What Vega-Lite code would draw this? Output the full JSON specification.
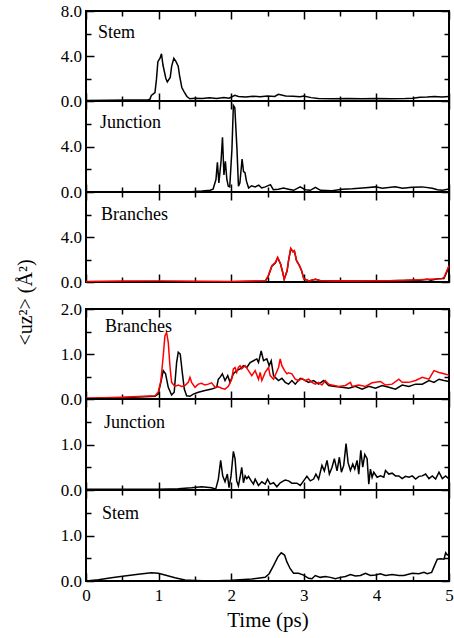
{
  "$schema": "https://vega.github.io/schema/vega-lite/v6.json",
  "padding": {"left": 14, "top": 1, "right": 2, "bottom": 2},
  "config": {
    "font": "Liberation Serif",
    "view": {"stroke": "#000000", "strokeWidth": 2},
    "axis": {"domain": false, "grid": false, "tickColor": "#000000", "tickWidth": 1.5, "labelFont": "Liberation Serif", "labelFontSize": 17, "labelColor": "#000000", "labelOverlap": false, "labelFlush": false, "titleFont": "Liberation Serif", "titleFontWeight": "normal", "titleColor": "#000000"},
    "title": {"font": "Liberation Serif", "fontSize": 18, "fontWeight": "normal", "color": "#000000", "anchor": "start", "frame": "group", "baseline": "alphabetic"},
    "line": {"strokeWidth": 1.5}
  },
  "datasets": {
    "p1": [
      {"t":0,"v":0.05,"s":"b"},{"t":0.3,"v":0.06,"s":"b"},{"t":0.6,"v":0.08,"s":"b"},{"t":0.85,"v":0.1,"s":"b"},{"t":0.88,"v":0.15,"s":"b"},{"t":0.9,"v":0.5,"s":"b"},{"t":0.95,"v":0.75,"s":"b"},{"t":0.97,"v":1.9,"s":"b"},{"t":0.99,"v":3.5,"s":"b"},{"t":1.02,"v":3.8,"s":"b"},{"t":1.04,"v":4.2,"s":"b"},{"t":1.06,"v":3.2,"s":"b"},{"t":1.1,"v":2.0,"s":"b"},{"t":1.12,"v":1.7,"s":"b"},{"t":1.16,"v":2.1,"s":"b"},{"t":1.18,"v":3.1,"s":"b"},{"t":1.21,"v":3.8,"s":"b"},{"t":1.24,"v":3.5,"s":"b"},{"t":1.27,"v":3.1,"s":"b"},{"t":1.29,"v":2.2,"s":"b"},{"t":1.32,"v":1.2,"s":"b"},{"t":1.35,"v":0.84,"s":"b"},{"t":1.39,"v":0.4,"s":"b"},{"t":1.43,"v":0.2,"s":"b"},{"t":1.5,"v":0.25,"s":"b"},{"t":1.6,"v":0.22,"s":"b"},{"t":1.7,"v":0.28,"s":"b"},{"t":1.8,"v":0.22,"s":"b"},{"t":1.9,"v":0.3,"s":"b"},{"t":1.97,"v":0.25,"s":"b"},{"t":2.05,"v":0.5,"s":"b"},{"t":2.1,"v":0.4,"s":"b"},{"t":2.2,"v":0.35,"s":"b"},{"t":2.3,"v":0.42,"s":"b"},{"t":2.4,"v":0.38,"s":"b"},{"t":2.5,"v":0.45,"s":"b"},{"t":2.6,"v":0.4,"s":"b"},{"t":2.65,"v":0.6,"s":"b"},{"t":2.75,"v":0.45,"s":"b"},{"t":2.85,"v":0.42,"s":"b"},{"t":2.95,"v":0.38,"s":"b"},{"t":3.0,"v":0.45,"s":"b"},{"t":3.1,"v":0.3,"s":"b"},{"t":3.2,"v":0.22,"s":"b"},{"t":3.4,"v":0.2,"s":"b"},{"t":3.6,"v":0.22,"s":"b"},{"t":3.8,"v":0.2,"s":"b"},{"t":4.0,"v":0.22,"s":"b"},{"t":4.2,"v":0.2,"s":"b"},{"t":4.4,"v":0.22,"s":"b"},{"t":4.5,"v":0.25,"s":"b"},{"t":4.6,"v":0.33,"s":"b"},{"t":4.7,"v":0.35,"s":"b"},{"t":4.8,"v":0.4,"s":"b"},{"t":4.9,"v":0.35,"s":"b"},{"t":5.0,"v":0.4,"s":"b"}
    ],
    "p2": [
      {"t":0,"v":0.02,"s":"b"},{"t":1.0,"v":0.02,"s":"b"},{"t":1.45,"v":0.03,"s":"b"},{"t":1.6,"v":0.08,"s":"b"},{"t":1.71,"v":0.15,"s":"b"},{"t":1.75,"v":0.25,"s":"b"},{"t":1.79,"v":1.1,"s":"b"},{"t":1.81,"v":2.6,"s":"b"},{"t":1.83,"v":0.8,"s":"b"},{"t":1.86,"v":2.7,"s":"b"},{"t":1.88,"v":4.8,"s":"b"},{"t":1.9,"v":1.5,"s":"b"},{"t":1.92,"v":2.7,"s":"b"},{"t":1.94,"v":1.1,"s":"b"},{"t":1.96,"v":0.5,"s":"b"},{"t":1.98,"v":0.45,"s":"b"},{"t":2.01,"v":3.75,"s":"b"},{"t":2.03,"v":7.6,"s":"b"},{"t":2.05,"v":7.4,"s":"b"},{"t":2.08,"v":3.7,"s":"b"},{"t":2.1,"v":0.5,"s":"b"},{"t":2.12,"v":0.8,"s":"b"},{"t":2.15,"v":2.9,"s":"b"},{"t":2.17,"v":1.8,"s":"b"},{"t":2.19,"v":1.7,"s":"b"},{"t":2.21,"v":0.95,"s":"b"},{"t":2.24,"v":0.35,"s":"b"},{"t":2.28,"v":0.55,"s":"b"},{"t":2.33,"v":0.45,"s":"b"},{"t":2.38,"v":0.6,"s":"b"},{"t":2.42,"v":0.35,"s":"b"},{"t":2.47,"v":0.45,"s":"b"},{"t":2.54,"v":0.65,"s":"b"},{"t":2.58,"v":0.2,"s":"b"},{"t":2.65,"v":0.25,"s":"b"},{"t":2.72,"v":0.35,"s":"b"},{"t":2.79,"v":0.25,"s":"b"},{"t":2.86,"v":0.15,"s":"b"},{"t":2.95,"v":0.45,"s":"b"},{"t":3.02,"v":0.2,"s":"b"},{"t":3.09,"v":0.15,"s":"b"},{"t":3.16,"v":0.4,"s":"b"},{"t":3.23,"v":0.15,"s":"b"},{"t":3.39,"v":0.12,"s":"b"},{"t":3.53,"v":0.25,"s":"b"},{"t":3.67,"v":0.28,"s":"b"},{"t":3.85,"v":0.38,"s":"b"},{"t":3.99,"v":0.45,"s":"b"},{"t":4.08,"v":0.33,"s":"b"},{"t":4.26,"v":0.47,"s":"b"},{"t":4.36,"v":0.33,"s":"b"},{"t":4.49,"v":0.42,"s":"b"},{"t":4.63,"v":0.45,"s":"b"},{"t":4.77,"v":0.33,"s":"b"},{"t":4.84,"v":0.2,"s":"b"},{"t":4.91,"v":0.15,"s":"b"},{"t":5.0,"v":0.27,"s":"b"}
    ],
    "p3": [
      {"t":0,"v":0.02,"s":"b"},{"t":1.0,"v":0.05,"s":"b"},{"t":2.0,"v":0.03,"s":"b"},{"t":2.47,"v":0.08,"s":"b"},{"t":2.51,"v":0.5,"s":"b"},{"t":2.56,"v":1.4,"s":"b"},{"t":2.61,"v":1.7,"s":"b"},{"t":2.64,"v":2.15,"s":"b"},{"t":2.68,"v":1.6,"s":"b"},{"t":2.71,"v":0.85,"s":"b"},{"t":2.73,"v":0.25,"s":"b"},{"t":2.77,"v":1.0,"s":"b"},{"t":2.79,"v":1.9,"s":"b"},{"t":2.82,"v":2.95,"s":"b"},{"t":2.85,"v":2.7,"s":"b"},{"t":2.87,"v":2.75,"s":"b"},{"t":2.9,"v":1.9,"s":"b"},{"t":2.94,"v":1.45,"s":"b"},{"t":2.97,"v":1.0,"s":"b"},{"t":3.0,"v":0.3,"s":"b"},{"t":3.07,"v":0.1,"s":"b"},{"t":3.16,"v":0.25,"s":"b"},{"t":3.23,"v":0.12,"s":"b"},{"t":3.5,"v":0.1,"s":"b"},{"t":4.0,"v":0.1,"s":"b"},{"t":4.5,"v":0.15,"s":"b"},{"t":4.6,"v":0.15,"s":"b"},{"t":4.7,"v":0.25,"s":"b"},{"t":4.75,"v":0.15,"s":"b"},{"t":4.85,"v":0.28,"s":"b"},{"t":4.93,"v":0.3,"s":"b"},{"t":4.97,"v":0.9,"s":"b"},{"t":5.0,"v":1.4,"s":"b"},
      {"t":0,"v":0.05,"s":"r"},{"t":0.5,"v":0.08,"s":"r"},{"t":1.0,"v":0.1,"s":"r"},{"t":1.5,"v":0.06,"s":"r"},{"t":2.0,"v":0.05,"s":"r"},{"t":2.3,"v":0.08,"s":"r"},{"t":2.47,"v":0.1,"s":"r"},{"t":2.51,"v":0.55,"s":"r"},{"t":2.56,"v":1.45,"s":"r"},{"t":2.61,"v":1.75,"s":"r"},{"t":2.64,"v":2.2,"s":"r"},{"t":2.68,"v":1.6,"s":"r"},{"t":2.71,"v":0.85,"s":"r"},{"t":2.73,"v":0.25,"s":"r"},{"t":2.77,"v":1.0,"s":"r"},{"t":2.79,"v":1.9,"s":"r"},{"t":2.82,"v":3.0,"s":"r"},{"t":2.85,"v":2.7,"s":"r"},{"t":2.87,"v":2.8,"s":"r"},{"t":2.9,"v":1.9,"s":"r"},{"t":2.94,"v":1.45,"s":"r"},{"t":2.97,"v":1.0,"s":"r"},{"t":3.0,"v":0.3,"s":"r"},{"t":3.07,"v":0.1,"s":"r"},{"t":3.16,"v":0.25,"s":"r"},{"t":3.23,"v":0.12,"s":"r"},{"t":3.4,"v":0.1,"s":"r"},{"t":3.6,"v":0.12,"s":"r"},{"t":3.8,"v":0.1,"s":"r"},{"t":4.0,"v":0.12,"s":"r"},{"t":4.2,"v":0.12,"s":"r"},{"t":4.4,"v":0.15,"s":"r"},{"t":4.5,"v":0.18,"s":"r"},{"t":4.6,"v":0.2,"s":"r"},{"t":4.72,"v":0.25,"s":"r"},{"t":4.8,"v":0.27,"s":"r"},{"t":4.9,"v":0.3,"s":"r"},{"t":4.93,"v":0.4,"s":"r"},{"t":4.97,"v":1.0,"s":"r"},{"t":5.0,"v":1.45,"s":"r"}
    ],
    "p4": [
      {"t":0,"v":0.01,"s":"b"},{"t":0.49,"v":0.03,"s":"b"},{"t":0.95,"v":0.06,"s":"b"},{"t":0.994,"v":0.11,"s":"b"},{"t":1.031,"v":0.37,"s":"b"},{"t":1.064,"v":0.63,"s":"b"},{"t":1.096,"v":0.56,"s":"b"},{"t":1.133,"v":0.26,"s":"b"},{"t":1.179,"v":0.09,"s":"b"},{"t":1.215,"v":0.15,"s":"b"},{"t":1.248,"v":0.81,"s":"b"},{"t":1.271,"v":1.04,"s":"b"},{"t":1.298,"v":1.0,"s":"b"},{"t":1.326,"v":0.59,"s":"b"},{"t":1.354,"v":0.22,"s":"b"},{"t":1.386,"v":0.07,"s":"b"},{"t":1.432,"v":0.06,"s":"b"},{"t":1.478,"v":0.11,"s":"b"},{"t":1.547,"v":0.15,"s":"b"},{"t":1.639,"v":0.19,"s":"b"},{"t":1.731,"v":0.22,"s":"b"},{"t":1.8,"v":0.26,"s":"b"},{"t":1.823,"v":0.44,"s":"b"},{"t":1.846,"v":0.48,"s":"b"},{"t":1.878,"v":0.56,"s":"b"},{"t":1.915,"v":0.41,"s":"b"},{"t":1.952,"v":0.52,"s":"b"},{"t":1.984,"v":0.37,"s":"b"},{"t":2.03,"v":0.56,"s":"b"},{"t":2.076,"v":0.63,"s":"b"},{"t":2.122,"v":0.67,"s":"b"},{"t":2.169,"v":0.74,"s":"b"},{"t":2.215,"v":0.7,"s":"b"},{"t":2.261,"v":0.81,"s":"b"},{"t":2.307,"v":0.85,"s":"b"},{"t":2.353,"v":0.89,"s":"b"},{"t":2.376,"v":0.81,"s":"b"},{"t":2.413,"v":1.07,"s":"b"},{"t":2.445,"v":0.85,"s":"b"},{"t":2.491,"v":0.89,"s":"b"},{"t":2.523,"v":0.74,"s":"b"},{"t":2.551,"v":0.85,"s":"b"},{"t":2.583,"v":0.52,"s":"b"},{"t":2.606,"v":0.48,"s":"b"},{"t":2.652,"v":0.41,"s":"b"},{"t":2.698,"v":0.46,"s":"b"},{"t":2.744,"v":0.37,"s":"b"},{"t":2.79,"v":0.33,"s":"b"},{"t":2.836,"v":0.41,"s":"b"},{"t":2.882,"v":0.33,"s":"b"},{"t":2.951,"v":0.46,"s":"b"},{"t":2.997,"v":0.43,"s":"b"},{"t":3.066,"v":0.37,"s":"b"},{"t":3.135,"v":0.41,"s":"b"},{"t":3.204,"v":0.33,"s":"b"},{"t":3.274,"v":0.41,"s":"b"},{"t":3.343,"v":0.3,"s":"b"},{"t":3.435,"v":0.28,"s":"b"},{"t":3.527,"v":0.26,"s":"b"},{"t":3.619,"v":0.24,"s":"b"},{"t":3.711,"v":0.28,"s":"b"},{"t":3.803,"v":0.22,"s":"b"},{"t":3.895,"v":0.28,"s":"b"},{"t":3.987,"v":0.24,"s":"b"},{"t":4.079,"v":0.3,"s":"b"},{"t":4.171,"v":0.26,"s":"b"},{"t":4.263,"v":0.22,"s":"b"},{"t":4.355,"v":0.31,"s":"b"},{"t":4.448,"v":0.28,"s":"b"},{"t":4.54,"v":0.33,"s":"b"},{"t":4.632,"v":0.33,"s":"b"},{"t":4.724,"v":0.41,"s":"b"},{"t":4.793,"v":0.37,"s":"b"},{"t":4.862,"v":0.44,"s":"b"},{"t":4.931,"v":0.41,"s":"b"},{"t":5.0,"v":0.39,"s":"b"},
      {"t":0,"v":0.015,"s":"r"},{"t":0.49,"v":0.04,"s":"r"},{"t":0.95,"v":0.07,"s":"r"},{"t":0.994,"v":0.15,"s":"r"},{"t":1.031,"v":0.4,"s":"r"},{"t":1.064,"v":0.96,"s":"r"},{"t":1.087,"v":1.4,"s":"r"},{"t":1.11,"v":1.48,"s":"r"},{"t":1.133,"v":1.26,"s":"r"},{"t":1.156,"v":0.74,"s":"r"},{"t":1.179,"v":0.37,"s":"r"},{"t":1.225,"v":0.28,"s":"r"},{"t":1.271,"v":0.31,"s":"r"},{"t":1.317,"v":0.28,"s":"r"},{"t":1.363,"v":0.3,"s":"r"},{"t":1.409,"v":0.37,"s":"r"},{"t":1.432,"v":0.48,"s":"r"},{"t":1.455,"v":0.37,"s":"r"},{"t":1.501,"v":0.26,"s":"r"},{"t":1.547,"v":0.33,"s":"r"},{"t":1.593,"v":0.35,"s":"r"},{"t":1.639,"v":0.31,"s":"r"},{"t":1.685,"v":0.33,"s":"r"},{"t":1.731,"v":0.36,"s":"r"},{"t":1.777,"v":0.26,"s":"r"},{"t":1.823,"v":0.27,"s":"r"},{"t":1.869,"v":0.24,"s":"r"},{"t":1.915,"v":0.22,"s":"r"},{"t":1.961,"v":0.28,"s":"r"},{"t":2.007,"v":0.44,"s":"r"},{"t":2.03,"v":0.67,"s":"r"},{"t":2.053,"v":0.7,"s":"r"},{"t":2.076,"v":0.59,"s":"r"},{"t":2.099,"v":0.7,"s":"r"},{"t":2.122,"v":0.74,"s":"r"},{"t":2.145,"v":0.67,"s":"r"},{"t":2.192,"v":0.74,"s":"r"},{"t":2.238,"v":0.63,"s":"r"},{"t":2.284,"v":0.52,"s":"r"},{"t":2.33,"v":0.63,"s":"r"},{"t":2.376,"v":0.44,"s":"r"},{"t":2.399,"v":0.59,"s":"r"},{"t":2.422,"v":0.41,"s":"r"},{"t":2.468,"v":0.59,"s":"r"},{"t":2.514,"v":0.7,"s":"r"},{"t":2.537,"v":0.52,"s":"r"},{"t":2.583,"v":0.44,"s":"r"},{"t":2.615,"v":0.56,"s":"r"},{"t":2.652,"v":0.7,"s":"r"},{"t":2.675,"v":0.89,"s":"r"},{"t":2.698,"v":0.74,"s":"r"},{"t":2.735,"v":0.63,"s":"r"},{"t":2.767,"v":0.56,"s":"r"},{"t":2.79,"v":0.58,"s":"r"},{"t":2.836,"v":0.56,"s":"r"},{"t":2.882,"v":0.44,"s":"r"},{"t":2.928,"v":0.41,"s":"r"},{"t":2.974,"v":0.46,"s":"r"},{"t":3.02,"v":0.41,"s":"r"},{"t":3.066,"v":0.44,"s":"r"},{"t":3.112,"v":0.37,"s":"r"},{"t":3.158,"v":0.33,"s":"r"},{"t":3.204,"v":0.37,"s":"r"},{"t":3.25,"v":0.31,"s":"r"},{"t":3.297,"v":0.41,"s":"r"},{"t":3.343,"v":0.33,"s":"r"},{"t":3.389,"v":0.31,"s":"r"},{"t":3.481,"v":0.28,"s":"r"},{"t":3.573,"v":0.3,"s":"r"},{"t":3.642,"v":0.37,"s":"r"},{"t":3.665,"v":0.28,"s":"r"},{"t":3.757,"v":0.31,"s":"r"},{"t":3.849,"v":0.28,"s":"r"},{"t":3.941,"v":0.36,"s":"r"},{"t":4.056,"v":0.39,"s":"r"},{"t":4.125,"v":0.31,"s":"r"},{"t":4.217,"v":0.33,"s":"r"},{"t":4.309,"v":0.44,"s":"r"},{"t":4.355,"v":0.37,"s":"r"},{"t":4.448,"v":0.37,"s":"r"},{"t":4.54,"v":0.41,"s":"r"},{"t":4.632,"v":0.48,"s":"r"},{"t":4.724,"v":0.44,"s":"r"},{"t":4.793,"v":0.63,"s":"r"},{"t":4.862,"v":0.59,"s":"r"},{"t":4.931,"v":0.56,"s":"r"},{"t":5.0,"v":0.53,"s":"r"}
    ],
    "p5": [
      {"t":0,"v":0.015,"s":"b"},{"t":0.5,"v":0.015,"s":"b"},{"t":0.994,"v":0.015,"s":"b"},{"t":1.271,"v":0.03,"s":"b"},{"t":1.455,"v":0.05,"s":"b"},{"t":1.593,"v":0.07,"s":"b"},{"t":1.731,"v":0.05,"s":"b"},{"t":1.786,"v":0.015,"s":"b"},{"t":1.823,"v":0.24,"s":"b"},{"t":1.855,"v":0.65,"s":"b"},{"t":1.883,"v":0.31,"s":"b"},{"t":1.915,"v":0.18,"s":"b"},{"t":1.947,"v":0.35,"s":"b"},{"t":1.97,"v":0.05,"s":"b"},{"t":1.998,"v":0.31,"s":"b"},{"t":2.03,"v":0.85,"s":"b"},{"t":2.053,"v":0.69,"s":"b"},{"t":2.076,"v":0.2,"s":"b"},{"t":2.099,"v":0.09,"s":"b"},{"t":2.122,"v":0.28,"s":"b"},{"t":2.145,"v":0.5,"s":"b"},{"t":2.169,"v":0.16,"s":"b"},{"t":2.192,"v":0.31,"s":"b"},{"t":2.215,"v":0.25,"s":"b"},{"t":2.238,"v":0.3,"s":"b"},{"t":2.275,"v":0.2,"s":"b"},{"t":2.307,"v":0.13,"s":"b"},{"t":2.33,"v":0.24,"s":"b"},{"t":2.376,"v":0.1,"s":"b"},{"t":2.422,"v":0.18,"s":"b"},{"t":2.468,"v":0.13,"s":"b"},{"t":2.5,"v":0.24,"s":"b"},{"t":2.537,"v":0.13,"s":"b"},{"t":2.583,"v":0.16,"s":"b"},{"t":2.629,"v":0.07,"s":"b"},{"t":2.675,"v":0.16,"s":"b"},{"t":2.721,"v":0.2,"s":"b"},{"t":2.744,"v":0.22,"s":"b"},{"t":2.79,"v":0.2,"s":"b"},{"t":2.836,"v":0.15,"s":"b"},{"t":2.905,"v":0.15,"s":"b"},{"t":2.951,"v":0.1,"s":"b"},{"t":2.997,"v":0.2,"s":"b"},{"t":3.043,"v":0.3,"s":"b"},{"t":3.089,"v":0.2,"s":"b"},{"t":3.135,"v":0.24,"s":"b"},{"t":3.167,"v":0.35,"s":"b"},{"t":3.204,"v":0.24,"s":"b"},{"t":3.25,"v":0.54,"s":"b"},{"t":3.283,"v":0.42,"s":"b"},{"t":3.32,"v":0.65,"s":"b"},{"t":3.352,"v":0.35,"s":"b"},{"t":3.389,"v":0.5,"s":"b"},{"t":3.421,"v":0.69,"s":"b"},{"t":3.458,"v":0.42,"s":"b"},{"t":3.49,"v":0.72,"s":"b"},{"t":3.518,"v":0.39,"s":"b"},{"t":3.55,"v":0.54,"s":"b"},{"t":3.582,"v":1.02,"s":"b"},{"t":3.61,"v":0.6,"s":"b"},{"t":3.642,"v":0.43,"s":"b"},{"t":3.674,"v":0.57,"s":"b"},{"t":3.702,"v":0.46,"s":"b"},{"t":3.734,"v":0.65,"s":"b"},{"t":3.757,"v":0.35,"s":"b"},{"t":3.785,"v":0.87,"s":"b"},{"t":3.812,"v":0.5,"s":"b"},{"t":3.84,"v":0.78,"s":"b"},{"t":3.872,"v":0.69,"s":"b"},{"t":3.895,"v":0.13,"s":"b"},{"t":3.918,"v":0.46,"s":"b"},{"t":3.941,"v":0.28,"s":"b"},{"t":3.964,"v":0.39,"s":"b"},{"t":4.01,"v":0.28,"s":"b"},{"t":4.056,"v":0.31,"s":"b"},{"t":4.102,"v":0.28,"s":"b"},{"t":4.125,"v":0.43,"s":"b"},{"t":4.171,"v":0.35,"s":"b"},{"t":4.217,"v":0.37,"s":"b"},{"t":4.263,"v":0.31,"s":"b"},{"t":4.309,"v":0.31,"s":"b"},{"t":4.355,"v":0.25,"s":"b"},{"t":4.401,"v":0.3,"s":"b"},{"t":4.448,"v":0.28,"s":"b"},{"t":4.494,"v":0.31,"s":"b"},{"t":4.54,"v":0.24,"s":"b"},{"t":4.586,"v":0.3,"s":"b"},{"t":4.632,"v":0.31,"s":"b"},{"t":4.678,"v":0.35,"s":"b"},{"t":4.724,"v":0.25,"s":"b"},{"t":4.77,"v":0.31,"s":"b"},{"t":4.816,"v":0.24,"s":"b"},{"t":4.862,"v":0.39,"s":"b"},{"t":4.908,"v":0.25,"s":"b"},{"t":4.954,"v":0.31,"s":"b"},{"t":5.0,"v":0.24,"s":"b"}
    ],
    "p6": [
      {"t":0,"v":0.0,"s":"b"},{"t":0.17,"v":0.03,"s":"b"},{"t":0.35,"v":0.07,"s":"b"},{"t":0.53,"v":0.11,"s":"b"},{"t":0.72,"v":0.15,"s":"b"},{"t":0.9,"v":0.18,"s":"b"},{"t":0.994,"v":0.17,"s":"b"},{"t":1.087,"v":0.13,"s":"b"},{"t":1.225,"v":0.07,"s":"b"},{"t":1.363,"v":0.02,"s":"b"},{"t":1.501,"v":0.01,"s":"b"},{"t":1.731,"v":0.0,"s":"b"},{"t":2.007,"v":0.015,"s":"b"},{"t":2.284,"v":0.045,"s":"b"},{"t":2.468,"v":0.08,"s":"b"},{"t":2.523,"v":0.16,"s":"b"},{"t":2.583,"v":0.34,"s":"b"},{"t":2.643,"v":0.53,"s":"b"},{"t":2.689,"v":0.62,"s":"b"},{"t":2.735,"v":0.57,"s":"b"},{"t":2.767,"v":0.42,"s":"b"},{"t":2.813,"v":0.27,"s":"b"},{"t":2.859,"v":0.17,"s":"b"},{"t":2.928,"v":0.17,"s":"b"},{"t":2.997,"v":0.13,"s":"b"},{"t":3.066,"v":0.06,"s":"b"},{"t":3.112,"v":0.05,"s":"b"},{"t":3.158,"v":0.12,"s":"b"},{"t":3.227,"v":0.08,"s":"b"},{"t":3.297,"v":0.1,"s":"b"},{"t":3.366,"v":0.08,"s":"b"},{"t":3.435,"v":0.05,"s":"b"},{"t":3.504,"v":0.08,"s":"b"},{"t":3.573,"v":0.1,"s":"b"},{"t":3.642,"v":0.14,"s":"b"},{"t":3.711,"v":0.11,"s":"b"},{"t":3.78,"v":0.12,"s":"b"},{"t":3.849,"v":0.17,"s":"b"},{"t":3.918,"v":0.12,"s":"b"},{"t":3.987,"v":0.13,"s":"b"},{"t":4.056,"v":0.16,"s":"b"},{"t":4.125,"v":0.12,"s":"b"},{"t":4.217,"v":0.14,"s":"b"},{"t":4.309,"v":0.12,"s":"b"},{"t":4.378,"v":0.12,"s":"b"},{"t":4.494,"v":0.17,"s":"b"},{"t":4.586,"v":0.16,"s":"b"},{"t":4.655,"v":0.19,"s":"b"},{"t":4.701,"v":0.16,"s":"b"},{"t":4.761,"v":0.19,"s":"b"},{"t":4.793,"v":0.31,"s":"b"},{"t":4.839,"v":0.48,"s":"b"},{"t":4.885,"v":0.49,"s":"b"},{"t":4.931,"v":0.48,"s":"b"},{"t":4.954,"v":0.62,"s":"b"},{"t":4.977,"v":0.57,"s":"b"},{"t":5.0,"v":0.57,"s":"b"}
    ],
    "gap": [{"t": 0, "v": 0}]
  },
  "spacing": 0,
  "bounds": "flush",
  "vconcat": [
    {
      "width": 363, "height": 90,
      "data": {"name": "p1"},
      "title": {"text": "Stem", "offset": -40, "dx": 12},
      "layer": [
        {"mark": {"type": "line"},
         "encoding": {
           "x": {"field": "t", "type": "quantitative", "scale": {"domain": [0, 5], "nice": false, "zero": false}, "axis": {"orient": "bottom", "values": [0,0.5,1,1.5,2,2.5,3,3.5,4,4.5,5], "labels": false, "title": null, "tickSize": {"condition": {"test": "datum.value % 1 === 0", "value": -8}, "value": -5}}},
           "y": {"field": "v", "type": "quantitative", "scale": {"domain": [0, 8], "nice": false}, "axis": {"orient": "left", "values": [0,2,4,6,8], "labelExpr": "datum.value % 4 === 0 ? format(datum.value, '.1f') : ''", "labelPadding": 12.5, "title": null, "tickSize": {"condition": {"test": "datum.value % 4 === 0", "value": -8}, "value": -5}}},
           "color": {"field": "s", "type": "nominal", "scale": {"domain": ["b", "r"], "range": ["#000000", "#ff0000"]}, "legend": null}
         }},
        {"mark": {"type": "line", "opacity": 0},
         "encoding": {
           "x": {"field": "t", "type": "quantitative", "axis": {"orient": "top", "values": [0,0.5,1,1.5,2,2.5,3,3.5,4,4.5,5], "labels": false, "title": null, "tickSize": {"condition": {"test": "datum.value % 1 === 0", "value": -8}, "value": -5}}},
           "y": {"field": "v", "type": "quantitative", "axis": {"orient": "right", "values": [0,2,4,6,8], "labels": false, "title": null, "tickSize": {"condition": {"test": "datum.value % 4 === 0", "value": -8}, "value": -5}}}
         }}
      ],
      "resolve": {"axis": {"x": "independent", "y": "independent"}}
    },
    {
      "width": 363, "height": 91,
      "data": {"name": "p2"},
      "title": {"text": "Junction", "offset": -32, "dx": 14},
      "layer": [
        {"mark": {"type": "line"},
         "encoding": {
           "x": {"field": "t", "type": "quantitative", "scale": {"domain": [0, 5], "nice": false, "zero": false}, "axis": {"orient": "bottom", "values": [0,0.5,1,1.5,2,2.5,3,3.5,4,4.5,5], "labels": false, "title": null, "tickSize": {"condition": {"test": "datum.value % 1 === 0", "value": -8}, "value": -5}}},
           "y": {"field": "v", "type": "quantitative", "scale": {"domain": [0, 8], "nice": false}, "axis": {"orient": "left", "values": [0,2,4,6], "labelExpr": "datum.value % 4 === 0 ? format(datum.value, '.1f') : ''", "labelPadding": 12.5, "title": null, "tickSize": {"condition": {"test": "datum.value % 4 === 0", "value": -8}, "value": -5}}},
           "color": {"field": "s", "type": "nominal", "scale": {"domain": ["b", "r"], "range": ["#000000", "#ff0000"]}, "legend": null}
         }},
        {"mark": {"type": "line", "opacity": 0},
         "encoding": {
           "x": {"field": "t", "type": "quantitative", "axis": {"orient": "top", "values": [0,0.5,1,1.5,2,2.5,3,3.5,4,4.5,5], "labels": false, "title": null, "tickSize": {"condition": {"test": "datum.value % 1 === 0", "value": -8}, "value": -5}}},
           "y": {"field": "v", "type": "quantitative", "axis": {"orient": "right", "values": [0,2,4,6], "labels": false, "title": null, "tickSize": {"condition": {"test": "datum.value % 4 === 0", "value": -8}, "value": -5}}}
         }}
      ],
      "resolve": {"axis": {"x": "independent", "y": "independent"}}
    },
    {
      "width": 363, "height": 90,
      "data": {"name": "p3"},
      "title": {"text": "Branches", "offset": -33, "dx": 15},
      "layer": [
        {"mark": {"type": "line"},
         "encoding": {
           "x": {"field": "t", "type": "quantitative", "scale": {"domain": [0, 5], "nice": false, "zero": false}, "axis": {"orient": "bottom", "values": [0,0.5,1,1.5,2,2.5,3,3.5,4,4.5,5], "labels": false, "title": null, "tickSize": {"condition": {"test": "datum.value % 1 === 0", "value": -8}, "value": -5}}},
           "y": {"field": "v", "type": "quantitative", "scale": {"domain": [0, 8], "nice": false}, "axis": {"orient": "left", "values": [0,2,4,6], "labelExpr": "datum.value % 4 === 0 ? format(datum.value, '.1f') : ''", "labelPadding": 12.5, "title": "<uz²> (Å²)", "titleFontSize": 20, "titleX": -55, "titleY": 110, "titleAngle": -90, "titleAlign": "center", "titleBaseline": "alphabetic", "tickSize": {"condition": {"test": "datum.value % 4 === 0", "value": -8}, "value": -5}}},
           "color": {"field": "s", "type": "nominal", "scale": {"domain": ["b", "r"], "range": ["#000000", "#ff0000"]}, "legend": null}
         }},
        {"mark": {"type": "line", "opacity": 0},
         "encoding": {
           "x": {"field": "t", "type": "quantitative", "axis": {"orient": "top", "values": [0,0.5,1,1.5,2,2.5,3,3.5,4,4.5,5], "labels": false, "title": null, "tickSize": {"condition": {"test": "datum.value % 1 === 0", "value": -8}, "value": -5}}},
           "y": {"field": "v", "type": "quantitative", "axis": {"orient": "right", "values": [0,2,4,6], "labels": false, "title": null, "tickSize": {"condition": {"test": "datum.value % 4 === 0", "value": -8}, "value": -5}}}
         }}
      ],
      "resolve": {"axis": {"x": "independent", "y": "independent"}}
    },
    {
      "width": 363, "height": 27,
      "data": {"name": "gap"},
      "view": {"stroke": null},
      "mark": {"type": "point", "opacity": 0},
      "encoding": {}
    },
    {
      "width": 363, "height": 90,
      "data": {"name": "p4"},
      "title": {"text": "Branches", "offset": -36, "dx": 19},
      "layer": [
        {"mark": {"type": "line"},
         "encoding": {
           "x": {"field": "t", "type": "quantitative", "scale": {"domain": [0, 5], "nice": false, "zero": false}, "axis": {"orient": "bottom", "values": [0,0.5,1,1.5,2,2.5,3,3.5,4,4.5,5], "labels": false, "title": null, "tickSize": {"condition": {"test": "datum.value % 1 === 0", "value": -8}, "value": -5}}},
           "y": {"field": "v", "type": "quantitative", "scale": {"domain": [0, 2], "nice": false}, "axis": {"orient": "left", "values": [0,0.5,1,1.5,2], "labelExpr": "datum.value % 1 === 0 ? format(datum.value, '.1f') : ''", "labelPadding": 12.5, "title": null, "tickSize": {"condition": {"test": "datum.value % 1 === 0", "value": -8}, "value": -5}}},
           "color": {"field": "s", "type": "nominal", "scale": {"domain": ["b", "r"], "range": ["#000000", "#ff0000"]}, "legend": null}
         }},
        {"mark": {"type": "line", "opacity": 0},
         "encoding": {
           "x": {"field": "t", "type": "quantitative", "axis": {"orient": "top", "values": [0,0.5,1,1.5,2,2.5,3,3.5,4,4.5,5], "labels": false, "title": null, "tickSize": {"condition": {"test": "datum.value % 1 === 0", "value": -8}, "value": -5}}},
           "y": {"field": "v", "type": "quantitative", "axis": {"orient": "right", "values": [0,0.5,1,1.5,2], "labels": false, "title": null, "tickSize": {"condition": {"test": "datum.value % 1 === 0", "value": -8}, "value": -5}}}
         }}
      ],
      "resolve": {"axis": {"x": "independent", "y": "independent"}}
    },
    {
      "width": 363, "height": 91,
      "data": {"name": "p5"},
      "title": {"text": "Junction", "offset": -34, "dx": 18},
      "layer": [
        {"mark": {"type": "line"},
         "encoding": {
           "x": {"field": "t", "type": "quantitative", "scale": {"domain": [0, 5], "nice": false, "zero": false}, "axis": {"orient": "bottom", "values": [0,0.5,1,1.5,2,2.5,3,3.5,4,4.5,5], "labels": false, "title": null, "tickSize": {"condition": {"test": "datum.value % 1 === 0", "value": -8}, "value": -5}}},
           "y": {"field": "v", "type": "quantitative", "scale": {"domain": [0, 2], "nice": false}, "axis": {"orient": "left", "values": [0,0.5,1,1.5], "labelExpr": "datum.value % 1 === 0 ? format(datum.value, '.1f') : ''", "labelPadding": 12.5, "title": null, "tickSize": {"condition": {"test": "datum.value % 1 === 0", "value": -8}, "value": -5}}},
           "color": {"field": "s", "type": "nominal", "scale": {"domain": ["b", "r"], "range": ["#000000", "#ff0000"]}, "legend": null}
         }},
        {"mark": {"type": "line", "opacity": 0},
         "encoding": {
           "x": {"field": "t", "type": "quantitative", "axis": {"orient": "top", "values": [0,0.5,1,1.5,2,2.5,3,3.5,4,4.5,5], "labels": false, "title": null, "tickSize": {"condition": {"test": "datum.value % 1 === 0", "value": -8}, "value": -5}}},
           "y": {"field": "v", "type": "quantitative", "axis": {"orient": "right", "values": [0,0.5,1,1.5], "labels": false, "title": null, "tickSize": {"condition": {"test": "datum.value % 1 === 0", "value": -8}, "value": -5}}}
         }}
      ],
      "resolve": {"axis": {"x": "independent", "y": "independent"}}
    },
    {
      "width": 363, "height": 91,
      "data": {"name": "p6"},
      "title": {"text": "Stem", "offset": -34, "dx": 16},
      "layer": [
        {"mark": {"type": "line"},
         "encoding": {
           "x": {"field": "t", "type": "quantitative", "scale": {"domain": [0, 5], "nice": false, "zero": false}, "axis": {"orient": "bottom", "values": [0,0.5,1,1.5,2,2.5,3,3.5,4,4.5,5], "labelExpr": "datum.value % 1 === 0 ? format(datum.value, 'd') : ''", "labelPadding": 14, "title": "Time (ps)", "titleFontSize": 21, "titleY": 45, "titleBaseline": "alphabetic", "tickSize": {"condition": {"test": "datum.value % 1 === 0", "value": -8}, "value": -5}}},
           "y": {"field": "v", "type": "quantitative", "scale": {"domain": [0, 2], "nice": false}, "axis": {"orient": "left", "values": [0,0.5,1,1.5], "labelExpr": "datum.value % 1 === 0 ? format(datum.value, '.1f') : ''", "labelPadding": 12.5, "title": null, "tickSize": {"condition": {"test": "datum.value % 1 === 0", "value": -8}, "value": -5}}},
           "color": {"field": "s", "type": "nominal", "scale": {"domain": ["b", "r"], "range": ["#000000", "#ff0000"]}, "legend": null}
         }},
        {"mark": {"type": "line", "opacity": 0},
         "encoding": {
           "x": {"field": "t", "type": "quantitative", "axis": {"orient": "top", "values": [0,0.5,1,1.5,2,2.5,3,3.5,4,4.5,5], "labels": false, "title": null, "tickSize": {"condition": {"test": "datum.value % 1 === 0", "value": -8}, "value": -5}}},
           "y": {"field": "v", "type": "quantitative", "axis": {"orient": "right", "values": [0,0.5,1,1.5], "labels": false, "title": null, "tickSize": {"condition": {"test": "datum.value % 1 === 0", "value": -8}, "value": -5}}}
         }}
      ],
      "resolve": {"axis": {"x": "independent", "y": "independent"}}
    }
  ]
}
